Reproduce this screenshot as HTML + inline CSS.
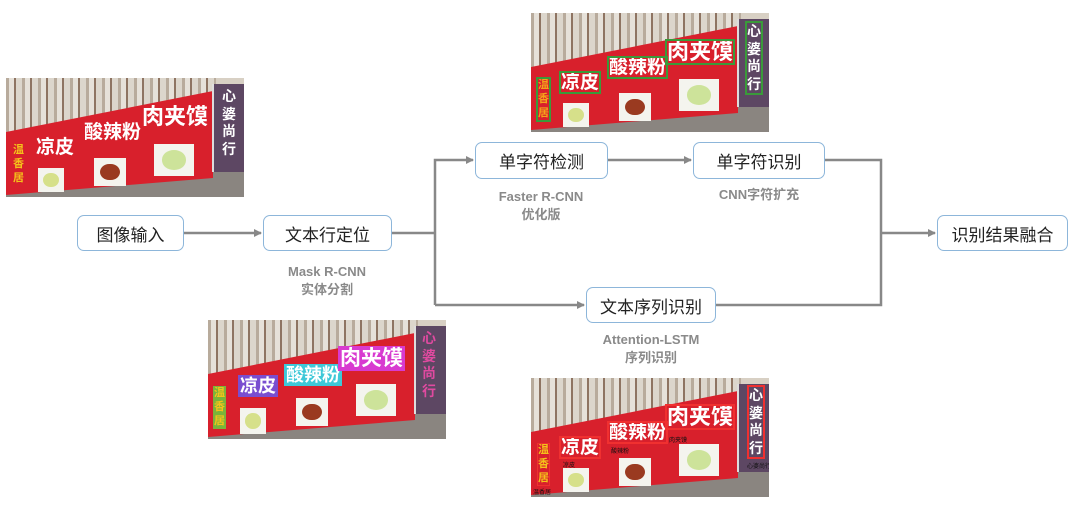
<!DOCTYPE html>
<html><head><meta charset="utf-8"><style>
body{margin:0;width:1080px;height:514px;background:#fff;position:relative;overflow:hidden;font-family:"Liberation Sans","Noto Sans CJK SC",sans-serif}
.node{position:absolute;box-sizing:border-box;border:1.5px solid #8db6da;border-radius:7px;background:#fff;color:#222;font-size:17px;display:flex;align-items:center;justify-content:center}
.lbl{position:absolute;color:#8a8a8a;font-weight:bold;font-size:13px;text-align:center;line-height:18px;transform:translateX(-50%);white-space:nowrap}
.sign{position:absolute;width:238px;height:119px;overflow:hidden;background:#d8d0c4}
.sign .win{position:absolute;left:0;top:0;width:210px;height:70px;background:repeating-linear-gradient(90deg,#b8ab9c 0 3px,#e6e1d9 3px 8px,#8e7462 8px 10px,#dcd6cc 10px 16px)}
.sign .floor{position:absolute;left:0;top:88px;width:238px;height:31px;background:#8a8580}
.sign .red{position:absolute;left:0;top:0;width:207px;height:119px;background:#d8202c;clip-path:polygon(0 54px,207px 13px,207px 100px,0 117px)}
.sign .pur{position:absolute;left:206px;top:6px;width:32px;height:88px;background:#5d4763;border-left:2px solid #ddd}
.sign .pic{position:absolute;background:#f4f4ee}
.sign .pic i{position:absolute;left:20%;top:20%;width:60%;height:60%;border-radius:50%}
.sign .t{position:absolute;color:#fff;font-weight:bold;white-space:nowrap;line-height:1}
.sign .v{position:absolute;font-weight:bold;line-height:1.25;width:1em}
.sm{position:absolute;font-size:6px;color:#111;white-space:nowrap}
</style></head><body>

<svg width="1080" height="514" style="position:absolute;left:0;top:0">
<defs><marker id="a" markerWidth="8" markerHeight="8" refX="7" refY="4" orient="auto" markerUnits="userSpaceOnUse"><path d="M0,0 L8,4 L0,8 z" fill="#888"/></marker></defs>
<g stroke="#888" stroke-width="2.5" fill="none">
<line x1="184" y1="233" x2="261" y2="233" marker-end="url(#a)"/>
<polyline points="392,233 435,233"/>
<polyline points="435,305 435,160 473,160" marker-end="url(#a)"/>
<line x1="435" y1="305" x2="584" y2="305" marker-end="url(#a)"/>
<line x1="608" y1="160" x2="691" y2="160" marker-end="url(#a)"/>
<polyline points="825,160 881,160 881,305 716,305"/>
<line x1="881" y1="233" x2="935" y2="233" marker-end="url(#a)"/>
</g></svg>

<div class="node" style="left:77px;top:215px;width:107px;height:36px">图像输入</div>
<div class="node" style="left:263px;top:215px;width:129px;height:36px">文本行定位</div>
<div class="node" style="left:475px;top:142px;width:133px;height:37px">单字符检测</div>
<div class="node" style="left:693px;top:142px;width:132px;height:37px">单字符识别</div>
<div class="node" style="left:586px;top:287px;width:130px;height:36px">文本序列识别</div>
<div class="node" style="left:937px;top:215px;width:131px;height:36px">识别结果融合</div>

<div class="lbl" style="left:327px;top:263px">Mask R-CNN<br>实体分割</div>
<div class="lbl" style="left:541px;top:188px">Faster R-CNN<br>优化版</div>
<div class="lbl" style="left:759px;top:186px">CNN字符扩充</div>
<div class="lbl" style="left:651px;top:331px">Attention-LSTM<br>序列识别</div>

<!-- sign 1 -->
<div class="sign" style="left:6px;top:78px">
<div class="win"></div><div class="floor"></div><div class="red"></div><div class="pur"></div>
<div class="pic" style="left:32px;top:90px;width:26px;height:24px"><i style="background:#d6e08a"></i></div>
<div class="pic" style="left:88px;top:80px;width:32px;height:28px"><i style="background:#9a3a20"></i></div>
<div class="pic" style="left:148px;top:66px;width:40px;height:32px"><i style="background:#cde39a"></i></div>
<div class="t" style="left:30px;top:60px;font-size:19px">凉皮</div>
<div class="t" style="left:78px;top:45px;font-size:19px">酸辣粉</div>
<div class="t" style="left:136px;top:28px;font-size:22px">肉夹馍</div>
<div class="v" style="left:7px;top:66px;font-size:11px;color:#f4c21a">温香居</div>
<div class="v" style="left:216px;top:10px;font-size:14px;color:#fff">心婆尚行</div>
</div>

<!-- sign 2 top -->
<div class="sign" style="left:531px;top:13px">
<div class="win"></div><div class="floor"></div><div class="red"></div><div class="pur"></div>
<div class="pic" style="left:32px;top:90px;width:26px;height:24px"><i style="background:#d6e08a"></i></div>
<div class="pic" style="left:88px;top:80px;width:32px;height:28px"><i style="background:#9a3a20"></i></div>
<div class="pic" style="left:148px;top:66px;width:40px;height:32px"><i style="background:#cde39a"></i></div>
<div class="t" style="left:30px;top:60px;font-size:19px;outline:2px solid #3a9a3a">凉皮</div>
<div class="t" style="left:78px;top:45px;font-size:19px;outline:2px solid #3a9a3a">酸辣粉</div>
<div class="t" style="left:136px;top:28px;font-size:22px;outline:2px solid #3a9a3a">肉夹馍</div>
<div class="v" style="left:7px;top:66px;font-size:11px;color:#f4a21a;outline:2px solid #3a9a3a">温香居</div>
<div class="v" style="left:216px;top:10px;font-size:14px;color:#fff;outline:2px solid #3a9a3a">心婆尚行</div>
</div>

<!-- sign 3 -->
<div class="sign" style="left:208px;top:320px">
<div class="win"></div><div class="floor"></div><div class="red"></div><div class="pur"></div>
<div class="pic" style="left:32px;top:88px;width:26px;height:26px"><i style="background:#d6e08a"></i></div>
<div class="pic" style="left:88px;top:78px;width:32px;height:28px"><i style="background:#9a3a20"></i></div>
<div class="pic" style="left:148px;top:64px;width:40px;height:32px"><i style="background:#cde39a"></i></div>
<div class="t" style="left:30px;top:55px;font-size:18px;background:#7a4ed0;padding:2px">凉皮</div>
<div class="t" style="left:76px;top:44px;font-size:18px;background:#3ec8d8;padding:2px">酸辣粉</div>
<div class="t" style="left:130px;top:26px;font-size:21px;background:#d83ad0;padding:2px">肉夹馍</div>
<div class="v" style="left:5px;top:66px;font-size:11px;color:#f4c21a;background:#7ab43a;padding:1px">温香居</div>
<div class="v" style="left:214px;top:10px;font-size:14px;color:#e04aa0">心婆尚行</div>
</div>

<!-- sign 4 -->
<div class="sign" style="left:531px;top:378px">
<div class="win"></div><div class="floor"></div><div class="red"></div><div class="pur"></div>
<div class="pic" style="left:32px;top:90px;width:26px;height:24px"><i style="background:#d6e08a"></i></div>
<div class="pic" style="left:88px;top:80px;width:32px;height:28px"><i style="background:#9a3a20"></i></div>
<div class="pic" style="left:148px;top:66px;width:40px;height:32px"><i style="background:#cde39a"></i></div>
<div class="t" style="left:30px;top:60px;font-size:19px;outline:2px solid #f03030">凉皮</div>
<div class="t" style="left:78px;top:45px;font-size:19px;outline:2px solid #f03030">酸辣粉</div>
<div class="t" style="left:136px;top:28px;font-size:22px;outline:2px solid #f03030">肉夹馍</div>
<div class="v" style="left:7px;top:66px;font-size:11px;color:#f4c21a;outline:1px solid #f03030">温香居</div>
<div class="v" style="left:218px;top:9px;font-size:14px;color:#fff;outline:2px solid #f03030">心婆尚行</div>
<div class="sm" style="left:32px;top:82px">凉皮</div>
<div class="sm" style="left:80px;top:68px">酸辣粉</div>
<div class="sm" style="left:138px;top:57px">肉夹馍</div>
<div class="sm" style="left:2px;top:109px">温香居</div>
<div class="sm" style="left:216px;top:83px">心婆尚行</div>
</div>

</body></html>
